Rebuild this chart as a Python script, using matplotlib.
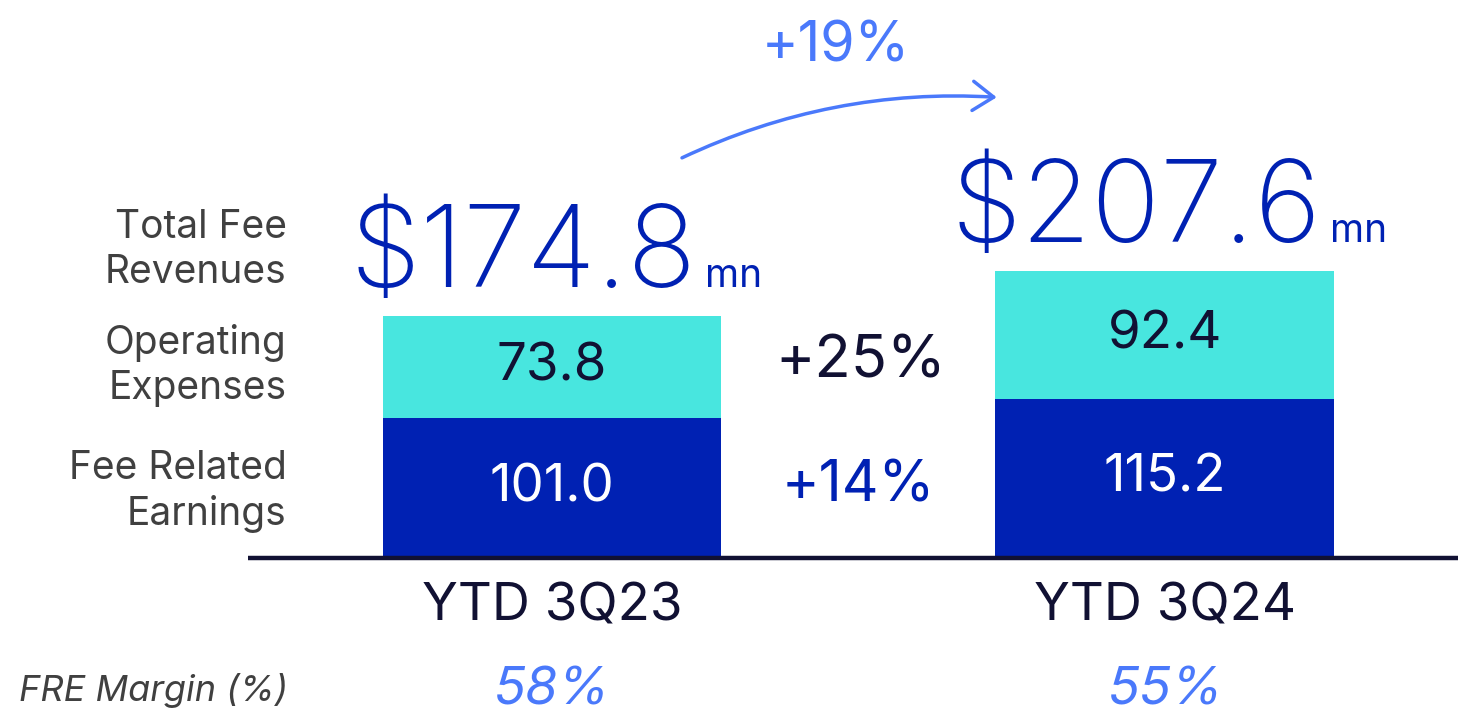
import matplotlib
matplotlib.use("Agg")
import matplotlib.pyplot as plt
from matplotlib.patches import FancyArrowPatch

categories = ["YTD 3Q23", "YTD 3Q24"]
fre = [101.0, 115.2]
opex = [73.8, 92.4]
totals = [174.8, 207.6]
margins = ["58%", "55%"]
row_labels = ["Total Fee\nRevenues", "Operating\nExpenses", "Fee Related\nEarnings"]
growth_total = "+19%"
growth_opex = "+25%"
growth_fre = "+14%"

DARK_BLUE = "#0021b3"
CYAN = "#48e6df"
LIGHT_BLUE = "#4a79fb"
NAVY = "#111133"
GRAY = "#404040"
FONT = "Inter"

fig = plt.figure(figsize=(14.58, 7.13), dpi=100)
ax = fig.add_axes([0, 0, 1, 1])
ax.set_xlim(-0.9005, 1.478)
ax.set_ylim(-112.1, 403.5)
ax.axis("off")
renderer = fig.canvas.get_renderer()

x = list(range(len(categories)))
w = 0.553
ax.bar(x, fre, width=w, color=DARK_BLUE, zorder=2)
ax.bar(x, opex, width=w, bottom=fre, color=CYAN, zorder=2)

ax.plot([-0.496, 1.478], [0, 0], color=NAVY, lw=3.2, solid_capstyle="butt", zorder=3)

for i in x:
    ax.text(i, fre[i] / 2, f"{fre[i]:.1f}", ha="center", va="center", color="white",
            fontsize=38, family=FONT, weight="normal", zorder=4)
    ax.text(i, fre[i] + opex[i] / 2, f"{opex[i]:.1f}", ha="center", va="center", color=NAVY,
            fontsize=38, family=FONT, weight="normal", zorder=4)
    # big total + "mn", centred as a group over the bar
    big = ax.text(0, 0, f"${totals[i]:.1f}", ha="left", va="baseline",
                  color=DARK_BLUE, fontsize=82, family=FONT, weight="light")
    mn = ax.text(0, 0, "mn", ha="left", va="baseline",
                 color=DARK_BLUE, fontsize=28, family=FONT, weight="normal")
    wb = big.get_window_extent(renderer).width
    wm = mn.get_window_extent(renderer).width
    gap = 8
    cx, _ = ax.transData.transform((i, 0))
    left = cx + 4 - (wb + gap + wm) / 2
    yb = totals[i] + 21
    xb = ax.transData.inverted().transform((left, 0))[0]
    xm = ax.transData.inverted().transform((left + wb + gap, 0))[0]
    big.set_position((xb, yb))
    mn.set_position((xm, yb))

    ax.text(i, -35.6, categories[i], ha="center", va="center", color=NAVY,
            fontsize=38, family=FONT, weight="normal")
    ax.text(i, -96, margins[i], ha="center", va="center", color=LIGHT_BLUE,
            fontsize=38, family=FONT, style="italic", weight="normal")

mid = 0.5
ax.text(mid + 0.003, fre[0] + opex[0] / 2 + 4, growth_opex, ha="center", va="center", color=NAVY,
        fontsize=43, family=FONT, weight="normal")
ax.text(mid, fre[0] / 2 + 1.5, growth_fre, ha="center", va="center", color=DARK_BLUE,
        fontsize=41, family=FONT, weight="normal")

row_y = [222.5, 139, 48]
for lab, yy in zip(row_labels, row_y):
    ax.text(-0.433, yy, lab, ha="right", va="center", color=GRAY, fontsize=28,
            family=FONT, weight="normal", linespacing=1.27)

ax.text(-0.87, -96, "FRE Margin (%)", ha="left", va="center", color=GRAY, fontsize=26,
        family=FONT, style="italic", weight="normal")

ax.text(0.463, 370, growth_total, ha="center", va="center", color=LIGHT_BLUE,
        fontsize=40, family=FONT, weight="normal")
arrow = FancyArrowPatch((0.208, 288.5), (0.730, 333), transform=ax.transData,
                        connectionstyle="arc3,rad=-0.13", arrowstyle="->,head_length=10,head_width=7",
                        color=LIGHT_BLUE, lw=2.5, mutation_scale=1.5)
ax.add_patch(arrow)

fig.savefig("out.png", dpi=100)
